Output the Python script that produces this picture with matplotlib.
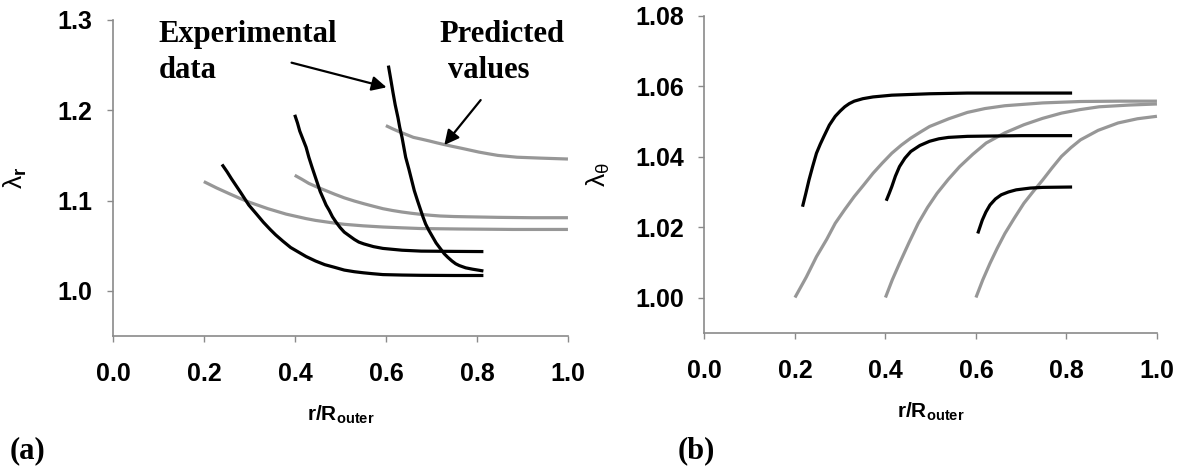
import matplotlib
matplotlib.use("Agg")
import matplotlib.pyplot as plt

plt.rcParams['font.family'] = ['Liberation Sans', 'DejaVu Sans']
plt.rcParams['mathtext.fontset'] = 'custom'
plt.rcParams['mathtext.rm'] = 'Liberation Sans'
plt.rcParams['mathtext.it'] = 'Liberation Sans:italic'
plt.rcParams['mathtext.bf'] = 'Liberation Sans:bold'

# (a) radial stretch: experimental curves
exp_r1_x = [0.239, 0.250, 0.260, 0.280, 0.298, 0.315, 0.330, 0.345, 0.357, 0.373, 0.390, 0.407,
            0.424, 0.445, 0.465, 0.487, 0.508, 0.530, 0.550, 0.570, 0.593, 0.635, 0.677, 0.750, 0.814]
exp_r1_y = [1.140, 1.132, 1.124, 1.109, 1.095, 1.085, 1.076, 1.068, 1.062, 1.055, 1.048, 1.043,
            1.038, 1.033, 1.029, 1.026, 1.023, 1.0212, 1.020, 1.019, 1.018, 1.0175, 1.0172, 1.017, 1.017]
exp_r2_x = [0.399, 0.405, 0.410, 0.417, 0.424, 0.430, 0.437, 0.443, 0.449, 0.455, 0.462, 0.468,
            0.475, 0.482, 0.490, 0.499, 0.508, 0.519, 0.530, 0.540, 0.551, 0.572, 0.593, 0.635,
            0.677, 0.750, 0.814]
exp_r2_y = [1.195, 1.186, 1.177, 1.168, 1.159, 1.148, 1.137, 1.128, 1.119, 1.110, 1.102, 1.095,
            1.089, 1.082, 1.076, 1.070, 1.065, 1.061, 1.057, 1.054, 1.052, 1.049, 1.047, 1.045,
            1.044, 1.0437, 1.0435]
exp_r3_x = [0.605, 0.610, 0.615, 0.620, 0.626, 0.630, 0.635, 0.639, 0.643, 0.650, 0.656, 0.662,
            0.669, 0.675, 0.681, 0.687, 0.694, 0.702, 0.710, 0.719, 0.728, 0.736, 0.745, 0.753,
            0.761, 0.775, 0.790, 0.814]
exp_r3_y = [1.2495, 1.235, 1.220, 1.206, 1.192, 1.181, 1.170, 1.159, 1.148, 1.135, 1.123, 1.111,
            1.100, 1.091, 1.082, 1.074, 1.067, 1.060, 1.053, 1.047, 1.041, 1.037, 1.033, 1.030,
            1.028, 1.0255, 1.024, 1.022]

# (a) radial stretch: predicted curves
pred_r1_x = [0.199, 0.227, 0.255, 0.278, 0.300, 0.320, 0.340, 0.360, 0.380, 0.402, 0.424, 0.445,
             0.466, 0.487, 0.508, 0.530, 0.550, 0.593, 0.635, 0.677, 0.761, 0.880, 1.0]
pred_r1_y = [1.121, 1.114, 1.1076, 1.1025, 1.098, 1.0945, 1.091, 1.088, 1.085, 1.0825, 1.080, 1.078,
             1.0765, 1.075, 1.0737, 1.0728, 1.072, 1.0707, 1.0698, 1.069, 1.0685, 1.068, 1.068]
pred_r2_x = [0.399, 0.415, 0.430, 0.448, 0.466, 0.487, 0.508, 0.530, 0.551, 0.572, 0.593, 0.614,
             0.635, 0.656, 0.677, 0.698, 0.719, 0.750, 0.780, 0.846, 0.920, 1.0]
pred_r2_y = [1.128, 1.1235, 1.119, 1.115, 1.1113, 1.107, 1.103, 1.0995, 1.0965, 1.0937, 1.091, 1.089,
             1.0873, 1.0859, 1.0847, 1.0837, 1.0829, 1.0823, 1.082, 1.0814, 1.081, 1.081]
pred_r3_x = [0.5995, 0.615, 0.630, 0.645, 0.660, 0.678, 0.695, 0.711, 0.728, 0.746, 0.765, 0.785,
             0.804, 0.825, 0.846, 0.867, 0.888, 0.940, 1.0]
pred_r3_y = [1.183, 1.1793, 1.176, 1.173, 1.170, 1.168, 1.166, 1.164, 1.162, 1.160, 1.158, 1.1558,
             1.1537, 1.1518, 1.150, 1.149, 1.148, 1.147, 1.146]

# (b) hoop stretch: experimental curves
exp_t1_x = [0.2167, 0.224, 0.231, 0.239, 0.2475, 0.256, 0.264, 0.276, 0.289, 0.300, 0.310, 0.320,
            0.331, 0.350, 0.3725, 0.414, 0.4975, 0.581, 0.700, 0.8125]
exp_t1_y = [1.0258, 1.0296, 1.0334, 1.0372, 1.041, 1.0436, 1.0458, 1.049, 1.0515, 1.0530, 1.0542, 1.0551,
            1.0558, 1.0565, 1.057, 1.0575, 1.0579, 1.0581, 1.0581, 1.0581]
exp_t2_x = [0.4017, 0.408, 0.414, 0.422, 0.431, 0.443, 0.456, 0.476, 0.4975, 0.518, 0.539, 0.581,
            0.700, 0.8125]
exp_t2_y = [1.0275, 1.0295, 1.0315, 1.0345, 1.0372, 1.0396, 1.0415, 1.0432, 1.0444, 1.0451, 1.0455, 1.0458,
            1.046, 1.046]
exp_t3_x = [0.604, 0.609, 0.614, 0.622, 0.631, 0.643, 0.656, 0.672, 0.689, 0.720, 0.7475, 0.8125]
exp_t3_y = [1.0182, 1.0201, 1.022, 1.0243, 1.0263, 1.028, 1.0292, 1.0300, 1.0306, 1.0311, 1.0313, 1.0314]

# (b) hoop stretch: predicted curves
pred_t1_x = [0.2, 0.225, 0.2475, 0.270, 0.289, 0.310, 0.331, 0.352, 0.3725, 0.393, 0.414, 0.435,
             0.456, 0.477, 0.4975, 0.540, 0.581, 0.620, 0.664, 0.7475, 0.831, 0.920, 1.0]
pred_t1_y = [1.000, 1.0058, 1.0116, 1.0165, 1.0211, 1.0250, 1.0287, 1.0320, 1.0353, 1.0382, 1.041, 1.0433,
             1.0453, 1.047, 1.0486, 1.0508, 1.0526, 1.0537, 1.0545, 1.0553, 1.0557, 1.0558, 1.0558]
pred_t2_x = [0.4, 0.415, 0.431, 0.452, 0.4725, 0.493, 0.514, 0.539, 0.564, 0.593, 0.6225, 0.664,
             0.706, 0.747, 0.789, 0.830, 0.8725, 0.940, 1.0]
pred_t2_y = [1.000, 1.005, 1.0097, 1.0156, 1.0211, 1.0256, 1.0296, 1.0336, 1.0372, 1.0407, 1.0439, 1.0468,
             1.0491, 1.0509, 1.0524, 1.0534, 1.0542, 1.0547, 1.055]
pred_t3_x = [0.6, 0.615, 0.631, 0.647, 0.664, 0.685, 0.706, 0.727, 0.7475, 0.768, 0.789, 0.810,
             0.831, 0.870, 0.914, 0.957, 1.0]
pred_t3_y = [1.000, 1.005, 1.0097, 1.014, 1.0182, 1.0226, 1.0268, 1.0302, 1.0334, 1.0368, 1.0401, 1.0426,
             1.0448, 1.0475, 1.0496, 1.0508, 1.0515]

x_ticks = [0.0, 0.2, 0.4, 0.6, 0.8, 1.0]
ra_ticks = [1.0, 1.1, 1.2, 1.3]
tb_ticks = [1.00, 1.02, 1.04, 1.06, 1.08]

BLACK = '#000000'
GREY = '#979797'
AXIS = '#8a8a8a'
LW = 2.3


def style_axes(ax, yticks, fmt):
    for s in ['top', 'right']:
        ax.spines[s].set_visible(False)
    for s in ['left', 'bottom']:
        ax.spines[s].set_color(AXIS)
        ax.spines[s].set_linewidth(1.2)
    ax.set_xlim(0, 1.0)
    ax.set_xticks(x_ticks)
    ax.set_xticklabels(['%.1f' % t for t in x_ticks])
    ax.set_yticks(yticks)
    ax.set_yticklabels([fmt % t for t in yticks])
    ax.tick_params(axis='both', colors=AXIS, length=4, width=1.0, labelsize=18,
                   labelcolor='black')
    ax.tick_params(axis='x', pad=15)
    ax.tick_params(axis='y', pad=11)
    for lab in ax.get_xticklabels() + ax.get_yticklabels():
        lab.set_fontweight('bold')


fig = plt.figure(figsize=(11.82, 4.69), dpi=100)
ax1 = fig.add_axes([0.0959, 0.2836, 0.3846, 0.6738])
ax2 = fig.add_axes([0.5960, 0.2906, 0.3828, 0.6753])

# panel (a)
for xs, ys in [(pred_r1_x, pred_r1_y), (pred_r2_x, pred_r2_y), (pred_r3_x, pred_r3_y)]:
    ax1.plot(xs, ys, color=GREY, lw=LW, solid_capstyle='butt', solid_joinstyle='round', clip_on=False)
for xs, ys in [(exp_r1_x, exp_r1_y), (exp_r2_x, exp_r2_y), (exp_r3_x, exp_r3_y)]:
    ax1.plot(xs, ys, color=BLACK, lw=LW, solid_capstyle='butt', solid_joinstyle='round', clip_on=False)
ax1.set_ylim(0.95, 1.3)
style_axes(ax1, ra_ticks, '%.1f')
ax1.set_ylabel(r'$\mathrm{λ}_{\mathbf{r}}$', fontsize=19)
ax1.yaxis.set_label_coords(-0.185, 0.5)
ax1.set_xlabel(r'$\mathbf{r/R_{outer}}$', fontsize=15)
ax1.xaxis.set_label_coords(0.5, -0.215)

tfont = dict(family=['Liberation Serif', 'DejaVu Serif'], fontweight='bold', fontsize=22)
ax1.text(0.0995, 1.2759, 'Experimental', ha='left', va='baseline', **tfont)
ax1.text(0.0995, 1.2354, 'data', ha='left', va='baseline', **tfont)
ax1.text(0.718, 1.2759, 'Predicted', ha='left', va='baseline', **tfont)
ax1.text(0.736, 1.2354, 'values', ha='left', va='baseline', **tfont)
arrow = dict(arrowstyle='-|>', color='black', lw=1.6, mutation_scale=22,
             shrinkA=0, shrinkB=0)
ax1.annotate('', xy=(0.601, 1.2254), xytext=(0.392, 1.2527), arrowprops=arrow)
ax1.annotate('', xy=(0.728, 1.1615), xytext=(0.808, 1.2113), arrowprops=arrow)

# panel (b)
for xs, ys in [(pred_t1_x, pred_t1_y), (pred_t2_x, pred_t2_y), (pred_t3_x, pred_t3_y)]:
    ax2.plot(xs, ys, color=GREY, lw=LW, solid_capstyle='butt', solid_joinstyle='round', clip_on=False)
for xs, ys in [(exp_t1_x, exp_t1_y), (exp_t2_x, exp_t2_y), (exp_t3_x, exp_t3_y)]:
    ax2.plot(xs, ys, color=BLACK, lw=LW, solid_capstyle='butt', solid_joinstyle='round', clip_on=False)
ax2.set_ylim(0.99, 1.08)
style_axes(ax2, tb_ticks, '%.2f')
ax2.set_ylabel(r'$\mathrm{λ}_{\mathrm{θ}}$', fontsize=19)
ax2.yaxis.set_label_coords(-0.205, 0.5)
ax2.set_xlabel(r'$\mathbf{r/R_{outer}}$', fontsize=15)
ax2.xaxis.set_label_coords(0.5, -0.215)

lfont = dict(family=['Liberation Serif', 'DejaVu Serif'], fontweight='bold', fontsize=22)
fig.text(0.008, 0.024, '(a)', ha='left', va='baseline', **lfont)
fig.text(0.573, 0.024, '(b)', ha='left', va='baseline', **lfont)

fig.savefig('out.png', dpi=100)
